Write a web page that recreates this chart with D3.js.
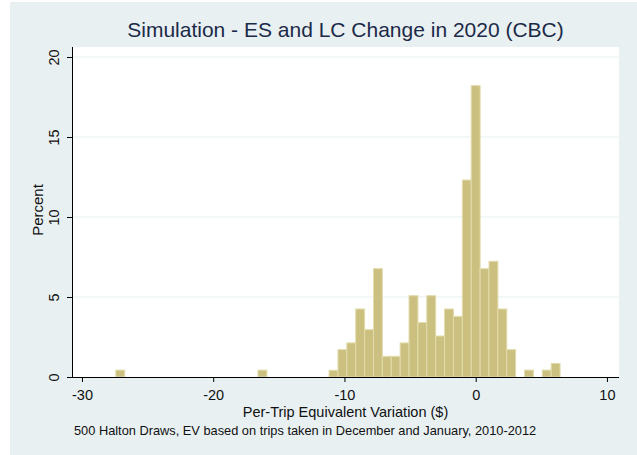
<!DOCTYPE html>
<html>
<head>
<meta charset="utf-8">
<script src="https://cdn.jsdelivr.net/npm/d3@7"></script>
<style>
  html, body { margin: 0; padding: 0; background: #fff; }
  svg { display: block; font-family: "Liberation Sans", Arial, sans-serif; }
</style>
</head>
<body>
<svg id="chart" width="637" height="455"></svg>
<script>
// histogram: 50 equal bins, percent of draws per bin
const binStart = -27.42;
const binWidth = 0.677;
const percents = [
  0.43, 0, 0, 0, 0, 0, 0, 0, 0, 0,
  0, 0, 0, 0, 0, 0, 0.43, 0, 0, 0,
  0, 0, 0, 0, 0.42, 1.71, 2.13, 4.25, 2.96, 6.77,
  1.29, 1.29, 2.13, 5.08, 3.40, 5.08, 2.56, 4.25, 3.79, 12.31,
  18.21, 6.77, 7.23, 4.25, 1.71, 0, 0.43, 0, 0.43, 0.85
];
const xTicks = [-30, -20, -10, 0, 10];
const yTicks = [0, 5, 10, 15, 20];

const titleText = 'Simulation - ES and LC Change in 2020 (CBC)';
const xTitle = 'Per-Trip Equivalent Variation ($)';
const yTitle = 'Percent';
const note = '500 Halton Draws, EV based on trips taken in December and January, 2010-2012';

const svg = d3.select('#chart');
const plot = { left: 72, right: 619, top: 47, bottom: 377 };
const font = '"Liberation Sans", Arial, sans-serif';

// outer graph region (Stata s2color look)
svg.append('rect').attr('x', 10).attr('y', 2).attr('width', 627).attr('height', 453)
  .attr('fill', '#e8f0f2');
svg.append('rect').attr('x', plot.left).attr('y', plot.top)
  .attr('width', plot.right - plot.left).attr('height', plot.bottom - plot.top)
  .attr('fill', '#fff');

const x = d3.scaleLinear().domain([-30.76, 10.92]).range([plot.left, plot.right]);
const y = d3.scaleLinear().domain([0, 20.625]).range([plot.bottom, plot.top]);

// gridlines
svg.append('g').selectAll('line').data(yTicks.filter(t => t > 0)).join('line')
  .attr('x1', plot.left).attr('x2', plot.right)
  .attr('y1', d => y(d)).attr('y2', d => y(d))
  .attr('stroke', '#e6eff1').attr('stroke-width', 1);

const bins = percents.map((p, i) => ({ x0: binStart + i * binWidth, x1: binStart + (i + 1) * binWidth, p }))
  .filter(b => b.p > 0);

svg.append('g').selectAll('rect').data(bins).join('rect')
  .attr('x', d => x(d.x0))
  .attr('width', d => x(d.x1) - x(d.x0))
  .attr('y', d => y(d.p))
  .attr('height', d => y(0) - y(d.p))
  .attr('fill', '#cbc07f')
  .attr('stroke', '#e2dbab').attr('stroke-width', 1);

// axes (plain hyphen for negatives, as in the original)
const fmt = d => String(d);
const xAxis = svg.append('g').attr('transform', `translate(0,${plot.bottom})`)
  .call(d3.axisBottom(x).tickValues(xTicks).tickSize(5).tickPadding(3).tickFormat(fmt));
xAxis.select('.domain').attr('d', `M${plot.left},0.5H${plot.right}`).attr('stroke', '#000');
xAxis.selectAll('.tick line').attr('stroke', '#000');
xAxis.selectAll('text').attr('y', 23).attr('dy', null)
  .attr('font-size', 14.5).attr('fill', '#111').attr('font-family', font);

const yAxis = svg.append('g').attr('transform', `translate(${plot.left},0)`)
  .call(d3.axisLeft(y).tickValues(yTicks).tickSize(5).tickFormat(fmt));
yAxis.select('.domain').attr('d', `M0.5,${plot.top}V${plot.bottom}`).attr('stroke', '#000');
yAxis.selectAll('.tick line').attr('stroke', '#000');
yAxis.selectAll('text')
  .attr('x', 0).attr('dy', null)
  .attr('transform', 'translate(-13.5,0) rotate(-90)')
  .attr('text-anchor', 'middle')
  .attr('font-size', 14.5).attr('fill', '#111').attr('font-family', font);

// titles
const cx = (plot.left + plot.right) / 2;
svg.append('text').attr('x', cx).attr('y', 37).attr('text-anchor', 'middle')
  .attr('font-size', 21).attr('fill', '#1c2a48').text(titleText);
svg.append('text').attr('x', cx).attr('y', 417).attr('text-anchor', 'middle')
  .attr('font-size', 14.5).attr('fill', '#111').text(xTitle);
svg.append('text').attr('transform', `translate(43,${(plot.top + plot.bottom) / 2 - 2}) rotate(-90)`)
  .attr('text-anchor', 'middle').attr('font-size', 15).attr('fill', '#111').text(yTitle);
svg.append('text').attr('x', 74).attr('y', 435)
  .attr('font-size', 12.8).attr('fill', '#111').text(note);
</script>
</body>
</html>
